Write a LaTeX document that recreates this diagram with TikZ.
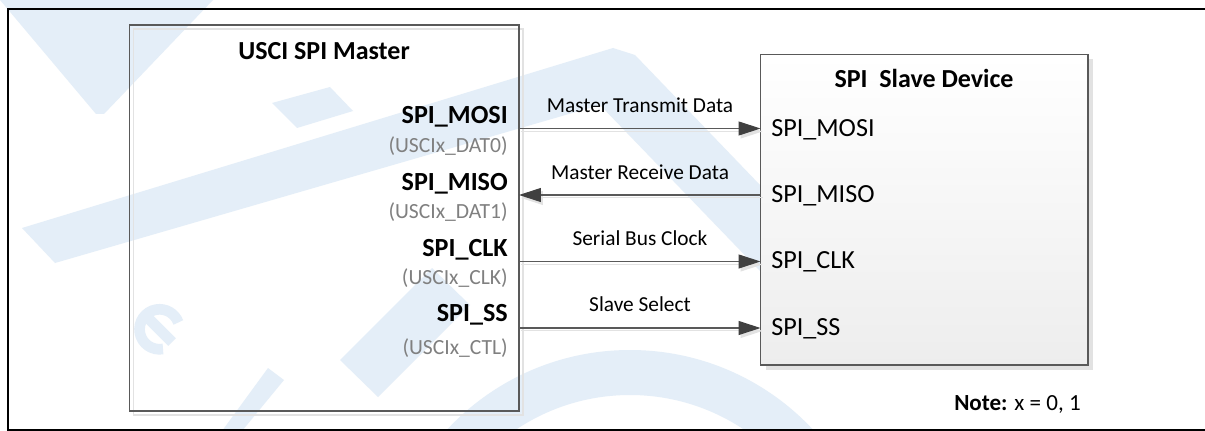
\documentclass[tikz,border=0pt]{standalone}
\usepackage{fontspec}
\setmainfont{Carlito}
\usetikzlibrary{arrows.meta}
\definecolor{wm}{HTML}{E4EEF8}
\definecolor{boxc}{HTML}{595959}
\definecolor{shadowc}{HTML}{E2E2E2}
\definecolor{subc}{HTML}{808080}
\definecolor{headc}{HTML}{404040}
\tikzset{
  titlef/.style={font=\fontsize{19.5}{22}\selectfont\bfseries},
  pinb/.style={font=\fontsize{19.6}{22}\selectfont\bfseries, inner sep=0pt, anchor=base east},
  pinsub/.style={font=\fontsize{16.2}{18}\selectfont, text=subc, inner sep=0pt, anchor=base east},
  pinr/.style={font=\fontsize{19.6}{22}\selectfont, inner sep=0pt, anchor=base west},
  siglabel/.style={font=\fontsize{16}{18}\selectfont, inner sep=0pt, anchor=base},
  sig/.style={draw=boxc, line width=0.8pt, -{Triangle[length=16.5pt,width=10.5pt,fill=headc,color=headc]}},
  sigshadow/.style={draw=shadowc, line width=0.8pt, -{Triangle[length=16.5pt,width=10.5pt,fill=shadowc,color=shadowc]}, transform canvas={shift={(1.5pt,-2.2pt)}}},
  boxnode/.style={draw=boxc, line width=0.8pt, inner sep=0pt, outer sep=0pt}
}
\begin{document}
\begin{tikzpicture}[x=0.75pt,y=-0.75pt]
\useasboundingbox (0,0) rectangle (1205,431);
\clip (0,0) rectangle (1205,431);
\fill[white] (0,0) rectangle (1205,431);
% watermark (faint background logo)
\fill[wm] (0,0) -- (213,0) -- (104,114) -- (96,114) -- cycle;
\fill[wm] (272,103) -- (330,87) -- (353,111) -- (297,128) -- cycle;
\fill[wm] (22,228) -- (613,48) -- (635,55) -- (760,185) -- (760,271) -- (600,105) -- (55,263) -- cycle;
\fill[wm, even odd rule] (630,600) circle[radius=250] (630,600) circle[radius=205];
\draw[wm, line width=8pt] (163,349) arc[start angle=80, end angle=340, radius=20];
\draw[wm, line width=8pt] (146,316) -- (172,342);
\fill[wm] (268,368) -- (284,380) -- (242,431) -- (222,431) -- cycle;
\fill[wm] (340,360) -- (378,397) -- (470,305) -- (432,268) -- cycle;
% outer frame
\draw[line width=1.6pt] (1215,9) -- (8,9) -- (8,430) -- (1215,430);
% master box
\draw[shadowc, line width=0.8pt] (133.5,29) rectangle (523,415);
\node[boxnode, minimum width=292.1pt, minimum height=289.5pt] (master) at (324.25,218) {};
\node[titlef, anchor=base] (mtitle) at (324,59.3) {USCI SPI Master};
% slave box
\fill[shadowc] (765.5,59.5) rectangle (1093,370);
\node[boxnode, top color=white, bottom color=black!7, minimum width=245.6pt, minimum height=232.9pt] (slave) at (924.25,209.75) {};
\node[titlef, anchor=base] (stitle) at (924,87.3) {SPI\ \ Slave Device};
% master pins
\node[pinb] (mMOSI) at (508,124) {SPI\_MOSI};
\node[pinsub] (uMOSI) at (508,152.7) {(USCIx\_DAT0)};
\node[pinb] (mMISO) at (508,190.7) {SPI\_MISO};
\node[pinsub] (uMISO) at (508,218.3) {(USCIx\_DAT1)};
\node[pinb] (mCLK) at (508,256.7) {SPI\_CLK};
\node[pinsub] (uCLK) at (508,284) {(USCIx\_CLK)};
\node[pinb] (mSS) at (508,321.7) {SPI\_SS};
\node[pinsub] (uSS) at (508,354) {(USCIx\_CTL)};
% slave pins
\node[pinr] (sMOSI) at (771,136.5) {SPI\_MOSI};
\node[pinr] (sMISO) at (771,202.8) {SPI\_MISO};
\node[pinr] (sCLK) at (771,268.5) {SPI\_CLK};
\node[pinr] (sSS) at (771,335) {SPI\_SS};
% signal rows
\coordinate (r1) at (0,128.5);
\coordinate (r2) at (0,195);
\coordinate (r3) at (0,261.5);
\coordinate (r4) at (0,328);
\draw[sigshadow] (master.east |- r1) -- (slave.west |- r1);
\draw[sigshadow] (slave.west |- r2) -- (master.east |- r2);
\draw[sigshadow] (master.east |- r3) -- (slave.west |- r3);
\draw[sigshadow] (master.east |- r4) -- (slave.west |- r4);
\draw[sig] (master.east |- r1) -- (slave.west |- r1);
\draw[sig] (slave.west |- r2) -- (master.east |- r2);
\draw[sig] (master.east |- r3) -- (slave.west |- r3);
\draw[sig] (master.east |- r4) -- (slave.west |- r4);
% signal labels
\node[siglabel] (l1) at (640,112.3) {Master Transmit Data};
\node[siglabel] (l2) at (640,179) {Master Receive Data};
\node[siglabel] (l3) at (640,245) {Serial Bus Clock};
\node[siglabel] (l4) at (640,311.7) {Slave Select};
% note
\node[font=\fontsize{17.3}{20}\selectfont, inner sep=0pt, anchor=base east] (note) at (1081,410) {\textbf{Note:} x = 0, 1};
\end{tikzpicture}
\end{document}
